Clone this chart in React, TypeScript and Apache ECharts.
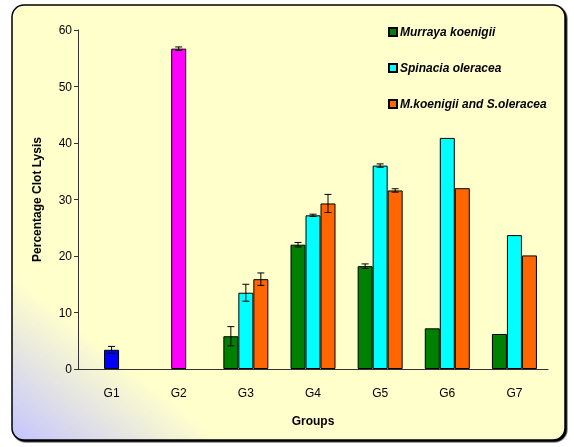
import React, { useEffect, useRef } from "react";
import * as echarts from "echarts";

const categories = ["G1", "G2", "G3", "G4", "G5", "G6", "G7"];
const standardValues = [3.4, 56.7, null, null, null, null, null];
const standardErrors = [0.6, 0.3, null, null, null, null, null];
const standardColors = ["#0000FF", "#FF00FF"];
const murraya = [null, null, 5.8, 22.0, 18.2, 7.2, 6.2];
const murrayaErr = [null, null, 1.7, 0.4, 0.4, null, null];
const spinacia = [null, null, 13.5, 27.2, 36.0, 40.9, 23.7];
const spinaciaErr = [null, null, 1.5, 0.2, 0.3, null, null];
const combined = [null, null, 15.9, 29.3, 31.6, 32.0, 20.1];
const combinedErr = [null, null, 1.1, 1.6, 0.3, null, null];
const seriesNames = ["Murraya koenigii", "Spinacia oleracea", "M.koenigii and S.oleracea"];
const yTicks = { min: 0, max: 60, interval: 10 };

const BAR_W = 15;
const FONT = "'Liberation Sans', Arial, sans-serif";

function errSeries(values: (number | null)[], errs: (number | null)[], offset: number) {
  const data: number[][] = [];
  values.forEach((v, i) => {
    const e = errs[i];
    if (v != null && e != null) data.push([i, v, e]);
  });
  return {
    type: "custom",
    xAxisIndex: 0,
    yAxisIndex: 0,
    z: 10,
    silent: true,
    encode: { x: 0, y: 1 },
    data,
    renderItem: (params: any, api: any) => {
      const i = api.value(0);
      const v = api.value(1);
      const e = api.value(2);
      const hi = api.coord([i, v + e]);
      const lo = api.coord([i, v - e]);
      const x = hi[0] + offset;
      const cap = 3.5;
      const st = { stroke: "#000", lineWidth: 1 };
      return {
        type: "group",
        children: [
          { type: "line", shape: { x1: x, y1: hi[1], x2: x, y2: lo[1] }, style: st },
          { type: "line", shape: { x1: x - cap, y1: hi[1], x2: x + cap, y2: hi[1] }, style: st },
          { type: "line", shape: { x1: x - cap, y1: lo[1], x2: x + cap, y2: lo[1] }, style: st },
        ],
      };
    },
  };
}

export default function App() {
  const ref = useRef<HTMLDivElement>(null);
  useEffect(() => {
    const chart = echarts.init(ref.current!, undefined, { renderer: "svg" });
    const barStyle = (color: string) => ({ color, borderColor: "#000", borderWidth: 1 });
    chart.setOption({
      animation: false,
      textStyle: { fontFamily: FONT },
      graphic: [
        {
          type: "rect",
          z: -10,
          silent: true,
          shape: { x: 12, y: 5, width: 553, height: 435, r: 12 },
          style: {
            fill: new echarts.graphic.LinearGradient(0, 1, 1, 0, [
              { offset: 0, color: "#C4C4FF" },
              { offset: 0.19, color: "#FFFFCC" },
              { offset: 1, color: "#FFFFCC" },
            ]),
            stroke: "#000",
            lineWidth: 1.5,
            shadowColor: "#000",
            shadowBlur: 0,
            shadowOffsetX: 1.5,
            shadowOffsetY: 1.5,
          },
        },
      ],
      legend: {
        data: seriesNames,
        orient: "vertical",
        left: 383,
        top: 21,
        itemGap: 24,
        itemWidth: 8,
        itemHeight: 8,
        icon: "rect",
        textStyle: { fontFamily: FONT, fontSize: 12, fontStyle: "italic", fontWeight: "bold", color: "#000", padding: [0, 0, 0, -2] },
      },
      grid: { left: 78, right: 26, top: 30, bottom: 78 },
      xAxis: [
        {
          type: "category",
          data: categories,
          name: "Groups",
          nameLocation: "middle",
          nameGap: 46,
          nameTextStyle: { fontFamily: FONT, fontSize: 12, fontWeight: "bold", color: "#000" },
          axisLine: { lineStyle: { color: "#333", width: 1 } },
          axisTick: { length: 5, lineStyle: { color: "#333" } },
          axisLabel: { fontFamily: FONT, fontSize: 12, color: "#000", margin: 18 },
        },
        { type: "category", data: categories, show: false },
      ],
      yAxis: {
        type: "value",
        min: yTicks.min,
        max: yTicks.max,
        interval: yTicks.interval,
        name: "Percentage Clot Lysis",
        nameLocation: "middle",
        nameGap: 35,
        nameTextStyle: { fontFamily: FONT, fontSize: 12, fontWeight: "bold", color: "#000" },
        axisLine: { show: true, lineStyle: { color: "#333", width: 1 } },
        axisTick: { show: true, length: 4, lineStyle: { color: "#333" } },
        axisLabel: { fontFamily: FONT, fontSize: 12, color: "#000", margin: 6 },
        splitLine: { show: false },
      },
      series: [
        {
          name: "Standards",
          type: "bar",
          xAxisIndex: 1,
          barWidth: BAR_W,
          data: standardValues.map((v, i) =>
            v == null ? null : { value: v, itemStyle: barStyle(standardColors[i]) }
          ),
        },
        { name: seriesNames[0], type: "bar", barWidth: BAR_W, barGap: "0%", data: murraya, itemStyle: barStyle("#008000") },
        { name: seriesNames[1], type: "bar", barWidth: BAR_W, barGap: "0%", data: spinacia, itemStyle: barStyle("#00FFFF") },
        { name: seriesNames[2], type: "bar", barWidth: BAR_W, barGap: "0%", data: combined, itemStyle: barStyle("#FF6600") },
        errSeries(standardValues, standardErrors, 0),
        errSeries(murraya, murrayaErr, -BAR_W),
        errSeries(spinacia, spinaciaErr, 0),
        errSeries(combined, combinedErr, BAR_W),
      ],
    });
    return () => chart.dispose();
  }, []);
  return <div ref={ref} style={{ position: "fixed", left: 0, top: 0, width: 574, height: 447 }} />;
}
